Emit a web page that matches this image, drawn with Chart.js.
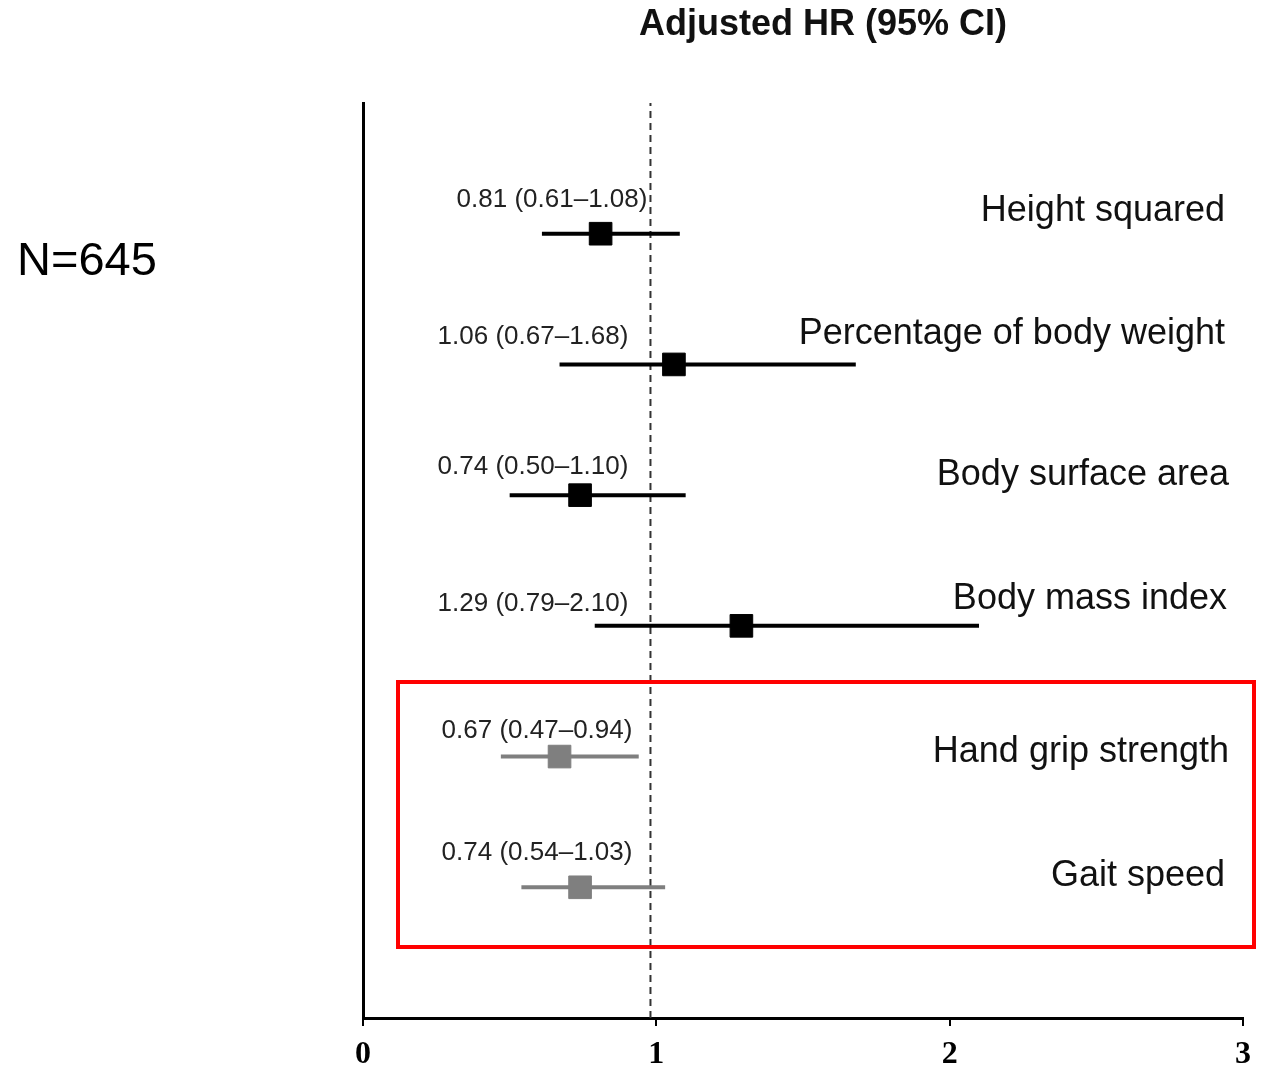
<!DOCTYPE html>
<html>
<head>
<meta charset="utf-8">
<script src="https://cdn.jsdelivr.net/npm/chart.js@4/dist/chart.umd.min.js"></script>
<style>
  html, body { margin: 0; padding: 0; background: #fff; }
  #wrap { position: relative; width: 1261px; height: 1068px; }
</style>
</head>
<body>
<div id="wrap"><canvas id="forest"></canvas></div>
<script>
// Adjusted hazard ratios with 95% confidence intervals
const categories = ['Height squared', 'Percentage of body weight', 'Body surface area',
                    'Body mass index', 'Hand grip strength', 'Gait speed'];
const hr     = [0.81, 1.06, 0.74, 1.29, 0.67, 0.74];
const ciLow  = [0.61, 0.67, 0.50, 0.79, 0.47, 0.54];
const ciHigh = [1.08, 1.68, 1.10, 2.10, 0.94, 1.03];
const highlighted = [false, false, false, false, true, true];
const xTicks = [0, 1, 2, 3];
const referenceHR = 0.98;
const chartTitle = 'Adjusted HR (95% CI)';
const sampleLabel = 'N=645';

// text placement (pixels, relative to each row's centre line)
const textLayout = {
  annotCenterX: [552, 533, 533, 533, 537, 537],
  annotDy:      [-34, -28, -28, -22, -26, -34],
  labelRightX:  [1225, 1225, 1229, 1227, 1229, 1225],
  labelDy:      [-23, -30, -20, -27, -4, -11]
};

const rowY = i => categories.length - i;
const BLACK = '#000000';
const GREY = '#7f7f7f';
const colorOf = i => highlighted[i] ? GREY : BLACK;
const fmt = v => v.toFixed(2);

const datasets = [];
datasets.push({
  data: [{ x: referenceHR, y: 0 }, { x: referenceHR, y: 7 }],
  showLine: true, borderColor: '#333', borderWidth: 2, borderDash: [7, 5],
  pointRadius: 0, order: 3
});
categories.forEach((c, i) => {
  datasets.push({
    data: [{ x: ciLow[i], y: rowY(i) }, { x: ciHigh[i], y: rowY(i) }],
    showLine: true, borderColor: colorOf(i), borderWidth: 4,
    pointRadius: 0, order: 2
  });
});
datasets.push({
  data: hr.map((v, i) => ({ x: v, y: rowY(i) })),
  pointStyle: 'rect', pointRadius: 16, pointHoverRadius: 16,
  backgroundColor: hr.map((v, i) => colorOf(i)),
  borderColor: hr.map((v, i) => colorOf(i)), borderWidth: 1,
  showLine: false, order: 1
});

const annotations = {
  id: 'annotations',
  afterDraw(chart) {
    const ctx = chart.ctx;
    const y = chart.scales.y;
    ctx.save();
    // title
    ctx.fillStyle = '#111';
    ctx.font = 'bold 36px "Liberation Sans", Arial, sans-serif';
    ctx.textAlign = 'center';
    ctx.textBaseline = 'middle';
    ctx.fillText(chartTitle, 823, 25);
    // sample size
    ctx.fillStyle = '#000';
    ctx.font = '47px "Liberation Sans", Arial, sans-serif';
    ctx.textAlign = 'left';
    ctx.fillText(sampleLabel, 17, 262);
    // per-row value labels and names
    categories.forEach((c, i) => {
      const py = y.getPixelForValue(rowY(i));
      ctx.fillStyle = '#222';
      ctx.font = '26px "Liberation Sans", Arial, sans-serif';
      ctx.textAlign = 'center';
      ctx.fillText(`${fmt(hr[i])} (${fmt(ciLow[i])}\u2013${fmt(ciHigh[i])})`,
                   textLayout.annotCenterX[i], py + textLayout.annotDy[i]);
      ctx.fillStyle = '#111';
      ctx.font = '36px "Liberation Sans", Arial, sans-serif';
      ctx.textAlign = 'right';
      ctx.fillText(c, textLayout.labelRightX[i], py + textLayout.labelDy[i]);
    });
    // highlight frame round the physical performance measures
    ctx.strokeStyle = '#ff0000';
    ctx.lineWidth = 4;
    ctx.strokeRect(398, 682, 856, 265);
    ctx.restore();
  }
};

new Chart(document.getElementById('forest'), {
  type: 'scatter',
  data: { datasets },
  options: {
    responsive: true,
    maintainAspectRatio: false,
    animation: false,
    layout: { padding: { left: 363, top: 103, right: 13, bottom: 0 } },
    plugins: { legend: { display: false }, tooltip: { enabled: false } },
    scales: {
      x: {
        type: 'linear', min: 0, max: 3,
        afterBuildTicks: s => { s.ticks = xTicks.map(v => ({ value: v })); },
        afterFit: s => { s.height = 50; },
        ticks: {
          color: '#000', padding: 10,
          font: { family: '"Liberation Serif", "Times New Roman", serif', weight: 'bold', size: 32 }
        },
        grid: { drawOnChartArea: false, drawTicks: true, tickLength: 8, color: '#000', lineWidth: 2 },
        border: { display: true, color: '#000', width: 3 }
      },
      y: {
        type: 'linear', min: 0, max: 7,
        afterFit: s => { s.width = 0; },
        ticks: { display: false },
        grid: { display: false, drawTicks: false },
        border: { display: true, color: '#000', width: 3 }
      }
    }
  },
  plugins: [annotations]
});
</script>
</body>
</html>
